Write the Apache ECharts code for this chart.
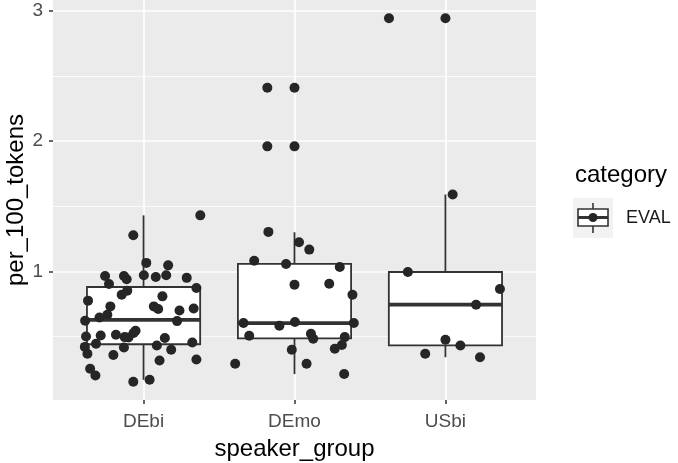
<!DOCTYPE html>
<html>
<head>
<meta charset="utf-8">
<script src="https://cdn.jsdelivr.net/npm/echarts@6/dist/echarts.min.js"></script>
<style>
  html, body { margin: 0; padding: 0; background: #fff; }
  #chart { width: 678px; height: 463px; }
</style>
</head>
<body>
<div id="chart"></div>
<script>
var categories = ['DEbi', 'DEmo', 'USbi'];
var yTicks = [1, 2, 3];
var yMinor = [0.5, 1.5, 2.5];

// boxplot stats per group
var boxLow = [0.167, 0.211, 0.341];
var boxQ1 = [0.44, 0.485, 0.431];
var boxMedian = [0.628, 0.603, 0.744];
var boxQ3 = [0.88, 1.057, 0.995];
var boxHigh = [1.43, 1.30, 1.59];

// outliers drawn by the boxplot (group index, value)
var outlierGroup = [1, 1, 2];
var outlierValue = [2.41, 1.96, 2.944];

// jittered points: [horizontal offset from group centre, per_100_tokens]
var debiPoints = [
    [0.376, 1.43], [-0.068, 1.277], [0.018, 1.065], [0.163, 1.046], [-0.255, 0.965],
    [-0.13, 0.965], [-0.112, 0.94], [0.002, 0.97], [0.081, 0.957], [0.15, 0.97],
    [0.286, 0.95], [-0.229, 0.903], [0.35, 0.872], [-0.108, 0.852], [-0.145, 0.82],
    [0.125, 0.808], [-0.368, 0.775], [-0.22, 0.731], [0.068, 0.731], [0.097, 0.711],
    [0.238, 0.70], [0.332, 0.715], [-0.24, 0.667], [-0.292, 0.646], [-0.387, 0.62],
    [0.222, 0.618], [-0.053, 0.544], [-0.066, 0.526], [-0.125, 0.495], [-0.1, 0.492],
    [-0.183, 0.513], [-0.284, 0.508], [-0.381, 0.50], [0.141, 0.488], [0.323, 0.454],
    [-0.315, 0.444], [0.088, 0.431], [-0.389, 0.42], [-0.13, 0.415], [-0.372, 0.367],
    [0.183, 0.398], [-0.2, 0.357], [0.106, 0.315], [0.35, 0.323], [-0.354, 0.252],
    [-0.319, 0.20], [-0.068, 0.152], [0.04, 0.167]
];
var demoPoints = [
    [-0.18, 2.41], [-0.18, 1.96], [-0.173, 1.303], [0.03, 1.223], [0.098, 1.167],
    [-0.267, 1.082], [-0.056, 1.057], [0.30, 1.034], [0.0, 0.898], [0.23, 0.905],
    [0.384, 0.821], [-0.338, 0.603], [-0.1, 0.582], [0.003, 0.611], [0.393, 0.603],
    [-0.3, 0.505], [0.109, 0.521], [0.124, 0.482], [0.333, 0.495], [0.314, 0.435],
    [0.267, 0.405], [-0.018, 0.398], [-0.393, 0.29], [0.08, 0.29], [0.329, 0.211]
];
var usbiPoints = [
    [-0.374, 2.944], [0.048, 1.59], [-0.249, 0.995], [0.361, 0.865], [0.203, 0.744],
    [0.0, 0.475], [0.099, 0.431], [-0.134, 0.367], [0.229, 0.341]
];

var chart = echarts.init(document.getElementById('chart'));

var boxData = categories.map(function (c, i) {
    return [i + 1, boxLow[i], boxQ1[i], boxMedian[i], boxQ3[i], boxHigh[i]];
});

var jitterData = [];
[debiPoints, demoPoints, usbiPoints].forEach(function (pts, i) {
    pts.forEach(function (p) {
        jitterData.push([i + 1 + p[0], p[1]]);
    });
});

var outlierData = outlierGroup.map(function (g, i) {
    return [g + 1, outlierValue[i]];
});

var gridLines = [];
yMinor.forEach(function (v) {
    gridLines.push({ yAxis: v, lineStyle: { width: 0.8 } });
});
yTicks.forEach(function (v) {
    gridLines.push({ yAxis: v, lineStyle: { width: 1.6 } });
});
categories.forEach(function (c, i) {
    gridLines.push({ xAxis: i + 1, lineStyle: { width: 1.6 } });
});

var font = 'Liberation Sans, Arial, sans-serif';
var ink = '#262626';

var option = {
    animation: false,
    grid: {
        left: 53, right: 142, top: 0, bottom: 63,
        containLabel: false, outerBoundsMode: 'none',
        show: true, backgroundColor: '#EBEBEB', borderWidth: 0
    },
    xAxis: {
        type: 'value', min: 0.4, max: 3.6,
        name: 'speaker_group', nameLocation: 'middle', nameGap: 37,
        nameTextStyle: { fontFamily: font, fontSize: 24, color: '#000' },
        axisLine: { show: false },
        splitLine: { show: false },
        axisTick: { show: true, length: 4, customValues: [1, 2, 3], lineStyle: { color: '#333', width: 1.5 } },
        axisLabel: {
            customValues: [1, 2, 3], margin: 12,
            fontFamily: font, fontSize: 19, color: '#4D4D4D',
            formatter: function (v) { return categories[Math.round(v) - 1]; }
        }
    },
    yAxis: {
        type: 'value', min: 0.012, max: 3.084,
        name: 'per_100_tokens', nameLocation: 'middle', nameGap: 25,
        nameMoveOverlap: false,
        nameTextStyle: { fontFamily: font, fontSize: 24, color: '#000' },
        axisLine: { show: false },
        splitLine: { show: false },
        axisTick: { show: true, length: 4, customValues: yTicks, lineStyle: { color: '#333', width: 1.5 } },
        axisLabel: {
            customValues: yTicks, margin: 10,
            fontFamily: font, fontSize: 19, color: '#4D4D4D'
        }
    },
    series: [
        {
            type: 'scatter', data: [], z: 1, silent: true,
            markLine: {
                silent: true, z: 1, symbol: 'none', label: { show: false },
                lineStyle: { color: '#fff', type: 'solid' },
                data: gridLines
            }
        },
        {
            type: 'custom', z: 10, silent: true,
            data: boxData,
            encode: { x: 0, y: [1, 2, 3, 4, 5] },
            renderItem: function (params, api) {
                var x = api.value(0);
                var low = api.coord([x, api.value(1)]);
                var q1 = api.coord([x, api.value(2)]);
                var med = api.coord([x, api.value(3)]);
                var q3 = api.coord([x, api.value(4)]);
                var high = api.coord([x, api.value(5)]);
                var half = api.size([0.75, 0])[0] / 2;
                var st = { stroke: '#333', lineWidth: 1.8 };
                return {
                    type: 'group',
                    children: [
                        { type: 'line', shape: { x1: low[0], y1: low[1], x2: q1[0], y2: q1[1] }, style: st },
                        { type: 'line', shape: { x1: q3[0], y1: q3[1], x2: high[0], y2: high[1] }, style: st },
                        { type: 'rect', shape: { x: q3[0] - half, y: q3[1], width: half * 2, height: q1[1] - q3[1] },
                          style: { fill: '#fff', stroke: '#333', lineWidth: 1.8 } },
                        { type: 'line', shape: { x1: med[0] - half, y1: med[1], x2: med[0] + half, y2: med[1] },
                          style: { stroke: '#333', lineWidth: 3.8 } }
                    ]
                };
            }
        },
        {
            type: 'scatter', z: 11, silent: true,
            data: outlierData, symbolSize: 10,
            itemStyle: { color: ink, opacity: 1 }
        },
        {
            type: 'scatter', z: 12, silent: true,
            data: jitterData, symbolSize: 10,
            itemStyle: { color: ink, opacity: 1 }
        }
    ],
    graphic: [
        { type: 'text', left: 575, top: 163, style: { text: 'category', font: '24px ' + font, fill: '#000' } },
        { type: 'rect', shape: { x: 573, y: 198, width: 40, height: 40 }, style: { fill: '#F2F2F2' } },
        { type: 'line', shape: { x1: 593, y1: 203, x2: 593, y2: 209 }, style: { stroke: '#333', lineWidth: 1.6 } },
        { type: 'line', shape: { x1: 593, y1: 226, x2: 593, y2: 233 }, style: { stroke: '#333', lineWidth: 1.6 } },
        { type: 'rect', shape: { x: 578, y: 209, width: 30, height: 17 }, style: { fill: '#fff', stroke: '#333', lineWidth: 1.6 } },
        { type: 'line', shape: { x1: 578, y1: 217.5, x2: 608, y2: 217.5 }, style: { stroke: '#333', lineWidth: 3 } },
        { type: 'circle', shape: { cx: 593, cy: 217.5, r: 4.5 }, style: { fill: ink } },
        { type: 'text', left: 626, top: 209, style: { text: 'EVAL', font: '18px ' + font, fill: '#1a1a1a' } }
    ]
};

chart.setOption(option);
</script>
</body>
</html>
